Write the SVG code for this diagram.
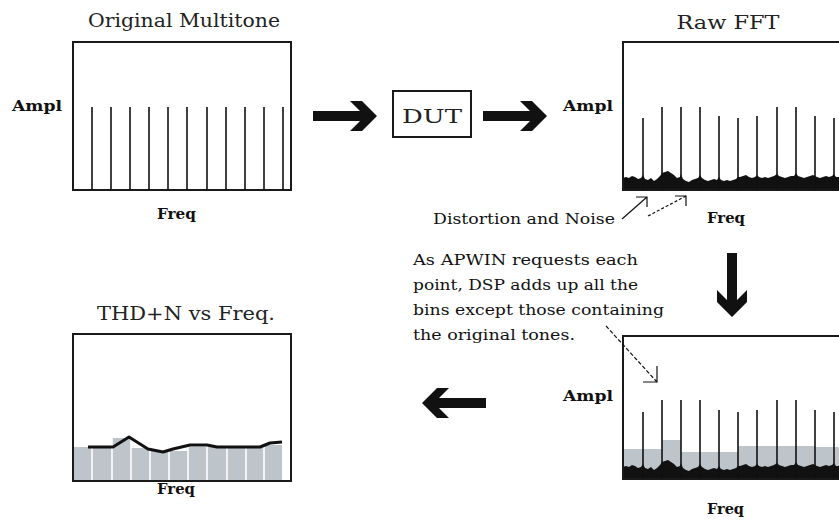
<svg xmlns="http://www.w3.org/2000/svg" width="839" height="520" viewBox="0 0 839 520">
<style>
.box{fill:none;stroke:#1a1a1a;stroke-width:2}
.tone{stroke:#111;stroke-width:1.6}
.title{font-family:"DejaVu Serif","Liberation Serif",serif;font-size:19px;fill:#222}
.lbl{font-family:"DejaVu Serif","Liberation Serif",serif;font-size:14px;font-weight:bold;fill:#111}
.txt{font-family:"DejaVu Serif","Liberation Serif",serif;font-size:15px;fill:#111}
.noise{fill:#111}
.gray{fill:#bdc4ca}
.thin{fill:none;stroke:#111;stroke-width:1.2}
.big{fill:#111}
</style>
<defs>
<path id="bigArrow" d="M0,-5 H47 L37,-15 H49 L64,0 L49,15 H37 L47,5 H0 Z"/>
<path id="noise" d="M623,190 L623,178 626,177 629,178 632,176 635,177 638,179 641,178 643,175 645,179 648,180 651,178 654,181 657,179 660,176 662,173 665,172 668,171 671,173 674,175 677,178 680,177 681,174 683,179 686,181 689,182 692,180 695,179 698,178 700,175 702,178 705,180 708,181 711,180 714,179 717,180 719,177 721,180 724,181 727,180 730,181 733,180 736,179 738,177 740,177 743,176 746,175 749,177 752,178 755,177 757,175 759,177 762,178 765,177 768,178 771,177 774,176 777,174 779,176 782,177 785,178 788,177 791,176 794,176 796,173 798,176 801,177 804,178 807,177 810,176 813,175 815,176 817,177 820,178 823,177 826,176 829,177 832,176 834,174 836,177 839,177 L839,190 Z"/>
</defs>

<g id="original-multitone">
<text class="title" x="184" y="27" text-anchor="middle" textLength="192" lengthAdjust="spacingAndGlyphs">Original Multitone</text>
<rect class="box" x="73" y="42" width="218" height="148"/>
<g class="tone">
<line x1="92" y1="107" x2="92" y2="190"/><line x1="111" y1="107" x2="111" y2="190"/><line x1="130" y1="107" x2="130" y2="190"/><line x1="149" y1="107" x2="149" y2="190"/><line x1="168" y1="107" x2="168" y2="190"/><line x1="187" y1="107" x2="187" y2="190"/><line x1="207" y1="107" x2="207" y2="190"/><line x1="226" y1="107" x2="226" y2="190"/><line x1="245" y1="107" x2="245" y2="190"/><line x1="264" y1="107" x2="264" y2="190"/><line x1="283" y1="107" x2="283" y2="190"/>
</g>
<text class="lbl" x="12" y="111" textLength="50" lengthAdjust="spacingAndGlyphs">Ampl</text>
<text class="lbl" x="157" y="219" textLength="39" lengthAdjust="spacingAndGlyphs">Freq</text>
</g>

<g id="dut">
<rect class="box" x="393" y="91" width="78" height="46" stroke-width="1.6"/>
<text class="title" x="432" y="123" text-anchor="middle" font-size="26" textLength="60" lengthAdjust="spacingAndGlyphs">DUT</text>
</g>

<g id="raw-fft">
<text class="title" x="728" y="29" text-anchor="middle" textLength="103" lengthAdjust="spacingAndGlyphs">Raw FFT</text>
<use href="#noise" class="noise"/>
<rect class="box" x="623" y="42" width="240" height="148"/>
<g class="tone">
<line x1="643" y1="118" x2="643" y2="190"/><line x1="662" y1="107" x2="662" y2="190"/><line x1="681" y1="107" x2="681" y2="190"/><line x1="700" y1="107" x2="700" y2="190"/><line x1="719" y1="116" x2="719" y2="190"/><line x1="738" y1="118" x2="738" y2="190"/><line x1="757" y1="116" x2="757" y2="190"/><line x1="777" y1="107" x2="777" y2="190"/><line x1="796" y1="107" x2="796" y2="190"/><line x1="815" y1="116" x2="815" y2="190"/><line x1="834" y1="118" x2="834" y2="190"/>
</g>
<text class="lbl" x="563" y="111" textLength="50" lengthAdjust="spacingAndGlyphs">Ampl</text>
<text class="lbl" x="707" y="223" textLength="38" lengthAdjust="spacingAndGlyphs">Freq</text>
</g>

<g id="distortion-label">
<text class="txt" x="433" y="224" textLength="182" lengthAdjust="spacingAndGlyphs">Distortion and Noise</text>
</g>

<g id="explanation">
<text class="txt" x="413" y="265" textLength="225" lengthAdjust="spacingAndGlyphs">As APWIN requests each</text>
<text class="txt" x="413" y="290" textLength="225" lengthAdjust="spacingAndGlyphs">point, DSP adds up all the</text>
<text class="txt" x="413" y="315" textLength="251" lengthAdjust="spacingAndGlyphs">bins except those containing</text>
<text class="txt" x="413" y="340" textLength="162" lengthAdjust="spacingAndGlyphs">the original tones.</text>
</g>

<g id="processed-fft">
<path class="gray" d="M624,479 V449 H662 V440 H681 V452 H738 V446 H815 V447 H839 V479 Z"/>
<use href="#noise" class="noise" transform="translate(0,289)"/>
<rect class="box" x="623" y="336" width="240" height="143"/>
<g class="tone">
<line x1="643" y1="412" x2="643" y2="479"/><line x1="662" y1="400" x2="662" y2="479"/><line x1="681" y1="400" x2="681" y2="479"/><line x1="700" y1="400" x2="700" y2="479"/><line x1="719" y1="410" x2="719" y2="479"/><line x1="738" y1="412" x2="738" y2="479"/><line x1="757" y1="410" x2="757" y2="479"/><line x1="777" y1="400" x2="777" y2="479"/><line x1="796" y1="400" x2="796" y2="479"/><line x1="815" y1="410" x2="815" y2="479"/><line x1="834" y1="412" x2="834" y2="479"/>
</g>
<text class="lbl" x="563" y="401" textLength="50" lengthAdjust="spacingAndGlyphs">Ampl</text>
<text class="lbl" x="707" y="514" textLength="37" lengthAdjust="spacingAndGlyphs">Freq</text>
</g>

<g id="thdn-vs-freq">
<text class="title" x="186" y="320" text-anchor="middle" textLength="178" lengthAdjust="spacingAndGlyphs">THD+N vs Freq.</text>
<path class="gray" d="M73,481 V447 H112 V438 H131 V448 H150 V451 H188 V447 H264 V445 H282 V481 Z"/>
<g stroke="#fff" stroke-width="1.6">
<line x1="92" y1="436" x2="92" y2="481"/><line x1="112" y1="436" x2="112" y2="481"/><line x1="131" y1="436" x2="131" y2="481"/><line x1="150" y1="436" x2="150" y2="481"/><line x1="169" y1="436" x2="169" y2="481"/><line x1="188" y1="436" x2="188" y2="481"/><line x1="207" y1="436" x2="207" y2="481"/><line x1="227" y1="436" x2="227" y2="481"/><line x1="246" y1="436" x2="246" y2="481"/><line x1="264" y1="436" x2="264" y2="481"/>
</g>
<polyline fill="none" stroke="#111" stroke-width="3" stroke-linejoin="round" points="88,447 113,447 129,437 148,449 163,452 173,449 190,445 207,445 217,447 260,447 270,443 282,442"/>
<rect class="box" x="73" y="334" width="218" height="147"/>
<text class="lbl" x="157" y="494" textLength="38" lengthAdjust="spacingAndGlyphs">Freq</text>
</g>

<g id="connectors">
<use href="#bigArrow" class="big" transform="translate(313,116)"/>
<use href="#bigArrow" class="big" transform="translate(483,116)"/>
<use href="#bigArrow" class="big" transform="translate(732,253) rotate(90)"/>
<use href="#bigArrow" class="big" transform="translate(486,403) rotate(180)"/>
<path class="thin" d="M622,219 L647,197 M636,197 H647 V207"/>
<path class="thin" d="M648,216 L686,196" stroke-dasharray="3,2"/>
<path class="thin" d="M675,196 H686 V206"/>
<path class="thin" d="M606,326 L657,382" stroke-dasharray="4,2"/>
<path class="thin" d="M643,382 H657 V366"/>
</g>
</svg>
